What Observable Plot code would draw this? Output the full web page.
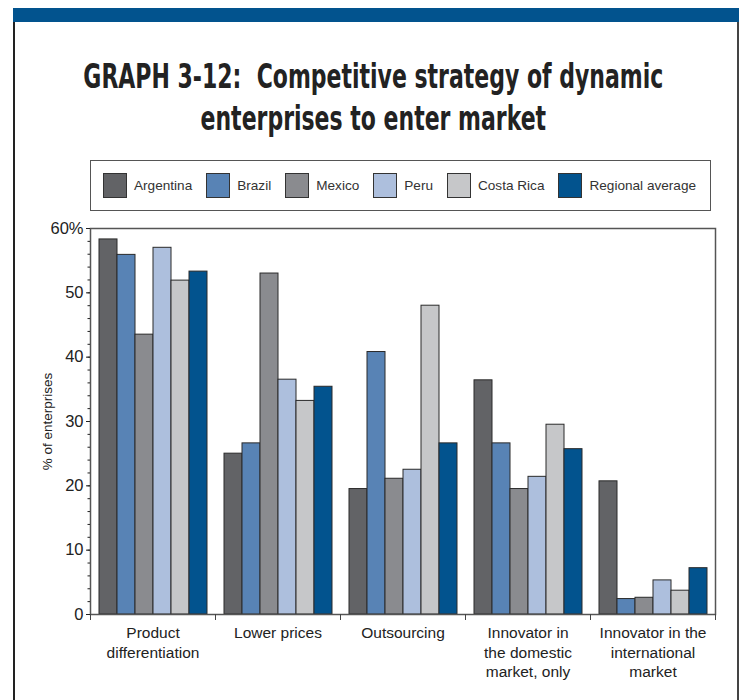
<!DOCTYPE html>
<html>
<head>
<meta charset="utf-8">
<script src="https://cdn.jsdelivr.net/npm/d3@7"></script>
<script src="https://cdn.jsdelivr.net/npm/@observablehq/plot@0.6"></script>
<style>
  html, body { margin: 0; padding: 0; background: #fff; }
  #wrap { position: relative; width: 739px; height: 700px; overflow: hidden; font-family: 'Liberation Sans', Arial, sans-serif; }
  #band { position: absolute; left: 13px; right: 0; top: 8px; height: 14px; background: #02538e; }
  #lb { position: absolute; left: 13px; top: 22px; bottom: 0; width: 1.5px; background: #222; }
  #rb { position: absolute; left: 737px; top: 22px; bottom: 0; width: 1.5px; background: #444; }
  #title { position: absolute; left: -193px; width: 1132px; top: 55px; text-align: center; font-family: 'DejaVu Sans Condensed', 'DejaVu Sans', sans-serif; font-weight: bold; font-size: 34px; line-height: 42px; color: #222; white-space: nowrap; }
  #title span { display: inline-block; transform-origin: 50% 50%; }
  #legend { position: absolute; left: 90px; top: 160px; width: 621px; height: 51px; border: 1px solid #555; box-sizing: border-box; display: flex; align-items: center; padding-left: 12px; font-family: 'Liberation Sans', Arial, sans-serif; font-size: 13.6px; color: #333; white-space: nowrap; }
  .item { display: flex; align-items: center; margin-right: 14px; }
  .sw { width: 24px; height: 25px; border: 1px solid #333; box-sizing: border-box; margin-right: 7px; }
  #chart { position: absolute; left: 0; top: 215px; }
</style>
</head>
<body>
<div id="wrap">
  <div id="band"></div>
  <div id="lb"></div>
  <div id="rb"></div>
  <div id="title"><span id="t1">GRAPH 3-12:&nbsp; Competitive strategy of dynamic</span><br><span id="t2">enterprises to enter market</span></div>
  <div id="legend"></div>
  <div id="chart"></div>
</div>
<script>
const categories = [
  "Product\ndifferentiation",
  "Lower prices",
  "Outsourcing",
  "Innovator in\nthe domestic\nmarket, only",
  "Innovator in the\ninternational\nmarket"
];
const countries = ["Argentina", "Brazil", "Mexico", "Peru", "Costa Rica", "Regional average"];
const colors = ["#626366", "#5883b5", "#8a8b8f", "#adbfdd", "#c6c7c9", "#02538e"];
const argentina = [58.3, 25.0, 19.5, 36.4, 20.7];
const brazil    = [55.9, 26.6, 40.8, 26.6, 2.4];
const mexico    = [43.5, 53.0, 21.1, 19.5, 2.6];
const peru      = [57.0, 36.5, 22.5, 21.4, 5.3];
const costaRica = [51.9, 33.2, 48.0, 29.5, 3.7];
const regional  = [53.3, 35.4, 26.6, 25.7, 7.2];
const yTicks = [0, 10, 20, 30, 40, 50, 60];
const yLabel = "% of enterprises";

const series = [argentina, brazil, mexico, peru, costaRica, regional];
const data = [];
categories.forEach((c, i) => countries.forEach((k, j) => data.push({category: c, country: k, value: series[j][i]})));

// condense the title to the reference's width
const t1 = document.getElementById("t1"), t2 = document.getElementById("t2");
const s = 580 / t1.getBoundingClientRect().width;
t1.style.transform = `scaleX(${s})`;
t2.style.transform = `scaleX(${s})`;

// legend
const legend = document.getElementById("legend");
countries.forEach((k, j) => {
  const it = document.createElement("div");
  it.className = "item";
  const sw = document.createElement("div");
  sw.className = "sw";
  sw.style.background = colors[j];
  const t = document.createElement("span");
  t.textContent = k;
  it.appendChild(sw); it.appendChild(t);
  legend.appendChild(it);
});

const chart = Plot.plot({
  width: 739,
  height: 485,
  marginTop: 13,
  marginBottom: 86,
  marginLeft: 90,
  marginRight: 24,
  style: {fontFamily: "'Liberation Sans', Arial, sans-serif", fontSize: "15px", color: "#222", background: "transparent"},
  fx: {domain: categories, padding: 0, label: null},
  x: {domain: countries, paddingInner: 0, paddingOuter: 0.46, axis: null},
  y: {domain: [0, 60]},
  color: {domain: countries, range: colors},
  marks: [
    Plot.barY(data, {fx: "category", x: "country", y: "value", fill: "country", stroke: "#2a2a2a", strokeWidth: 1}),
    Plot.frame({facet: "super", stroke: "#555", strokeWidth: 1.5}),
    Plot.frame({anchor: "left", stroke: "#444", strokeWidth: 1, insetTop: 386, insetBottom: -5}),
    Plot.frame({anchor: "right", stroke: "#444", strokeWidth: 1, insetTop: 386, insetBottom: -5}),
    Plot.axisFx({anchor: "bottom", tickSize: 0, tickPadding: 10, lineHeight: 1.25, fontSize: 15.5, label: null}),
    Plot.axisY({ticks: d3.range(0, 61, 2), tickSize: 2.5, tickFormat: () => "", label: null}),
    Plot.axisY({ticks: yTicks, tickSize: 4, tickPadding: 3, fontSize: 16.5,
      tickFormat: d => d === 60 ? "60%" : String(d), label: null}),
    Plot.axisY({ticks: [30], tickSize: 0, tickFormat: () => "", fontSize: 13.5,
      label: yLabel, labelAnchor: "center", labelOffset: 48, labelArrow: false})
  ]
});
document.getElementById("chart").appendChild(chart);
</script>
</body>
</html>
